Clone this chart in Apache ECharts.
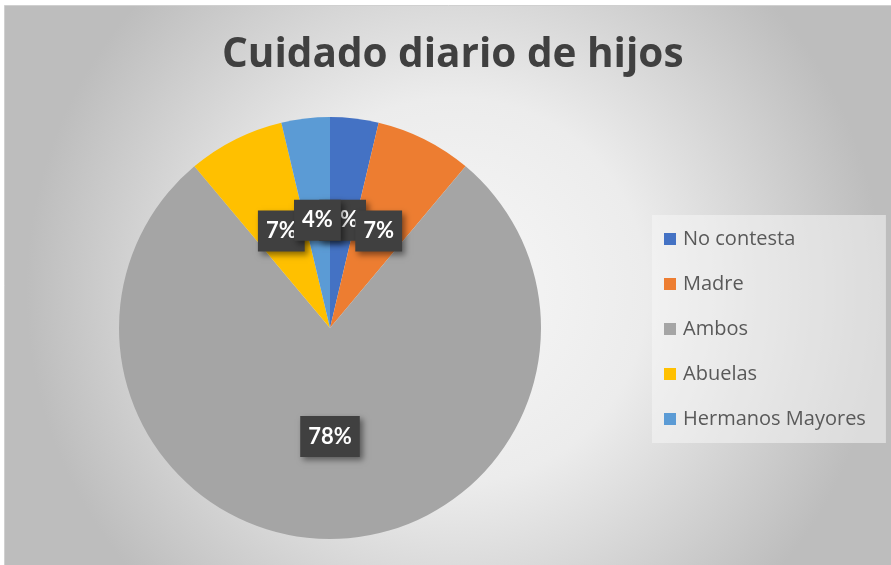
<!DOCTYPE html>
<html><head><meta charset="utf-8">
<script src="https://cdn.jsdelivr.net/npm/echarts@6/dist/echarts.min.js"></script>
<style>html,body{margin:0;padding:0;background:#fff}#c{width:891px;height:565px}</style>
</head><body><div id="c"></div>
<script>
const titleText = 'Cuidado diario de hijos';
const categories = ['No contesta', 'Madre', 'Ambos', 'Abuelas', 'Hermanos Mayores'];
const values = [1, 2, 21, 2, 1];
const colors = ['#4472C4', '#ED7D31', '#A5A5A5', '#FFC000', '#5B9BD5'];

const chart = echarts.init(document.getElementById('c'));
chart.setOption({
  animation: false,
  color: colors,
  graphic: [{
    type: 'rect', z: -10, silent: true,
    shape: {x: 4.5, y: 5.5, width: 900, height: 570},
    style: {
      fill: new echarts.graphic.RadialGradient(0.5, 0.5, 0.75, [
        {offset: 0, color: '#f7f7f7'},
        {offset: 0.45, color: '#ececec'},
        {offset: 1, color: '#bdbdbd'}
      ]),
      stroke: '#d0d0d0', lineWidth: 1
    }
  }],
  title: {
    text: titleText, left: 217, top: 30,
    textStyle: {fontFamily: 'Open Sans', fontWeight: 'bold', fontSize: 40.5, color: '#404040'}
  },
  legend: {
    orient: 'vertical', left: 652, top: 215, itemGap: 25,
    itemWidth: 12, itemHeight: 12, icon: 'rect',
    backgroundColor: 'rgba(246,246,246,0.55)', padding: [14, 20, 14, 12],
    textStyle: {fontFamily: 'Open Sans', fontSize: 20, color: '#595959', padding: [0, 0, 0, 2]},
    data: categories
  },
  series: [{
    type: 'pie', center: [330, 328], radius: [0, 211],
    startAngle: 90, clockwise: true, avoidLabelOverlap: false,
    itemStyle: {borderWidth: 0},
    labelLine: {show: false},
    labelLayout: {hideOverlap: false},
    label: {
      show: true, position: 'inside',
      formatter: p => Math.round(p.percent) + '%',
      fontFamily: 'Lato', fontWeight: 'bold', fontSize: 22, color: '#fff',
      backgroundColor: '#404040', padding: [10, 8, 9, 8],
      shadowColor: 'rgba(0,0,0,0.45)', shadowBlur: 6, shadowOffsetX: 3, shadowOffsetY: 3
    },
    data: categories.map((n, i) => ({name: n, value: values[i]}))
  }]
});
</script></body></html>
